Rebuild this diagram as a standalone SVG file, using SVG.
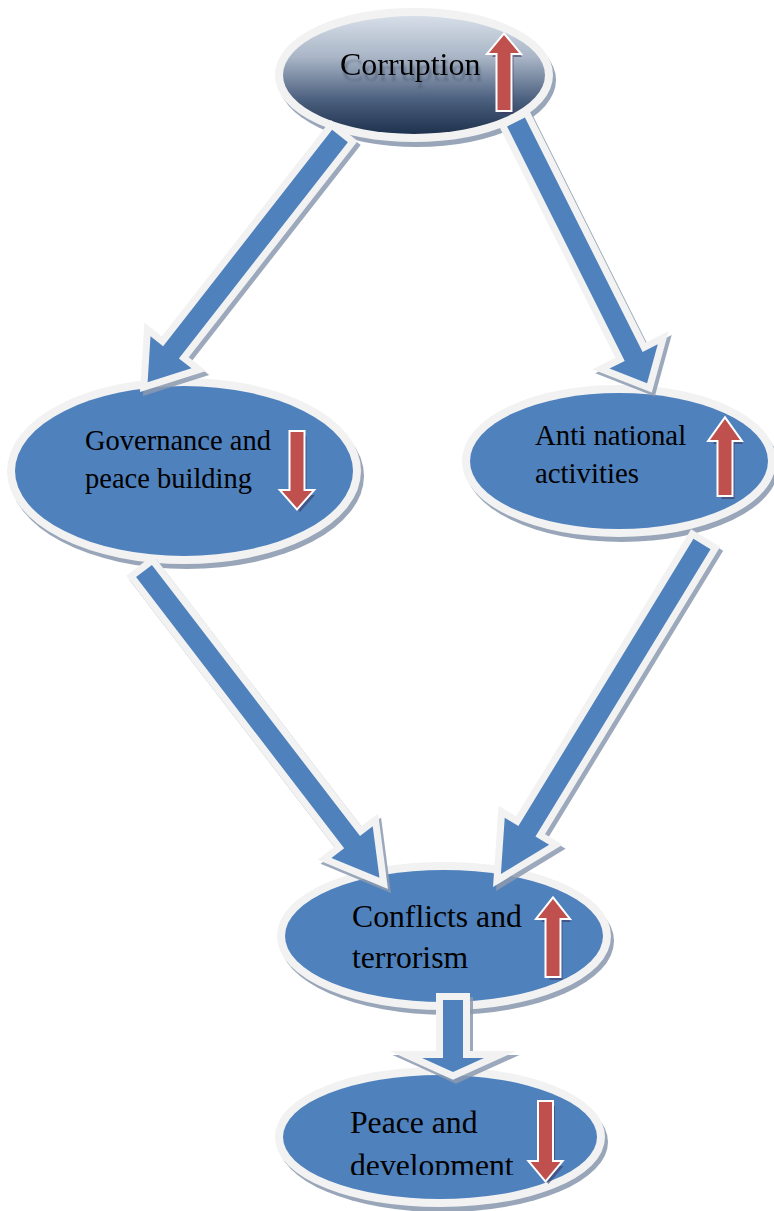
<svg xmlns="http://www.w3.org/2000/svg" xmlns:xlink="http://www.w3.org/1999/xlink" width="774" height="1211" viewBox="0 0 774 1211">
<defs>
<style>
.nshadow{fill:#8797ad;opacity:0.85}
.nbody{fill:#4f81bd;stroke:#f2f2f2;stroke-width:16;paint-order:stroke}
.ctop{stroke:#f2f2f2;stroke-width:16;paint-order:stroke}
.lbl{font-family:"Liberation Serif","Times New Roman",serif;fill:#000}
.red{fill:#c0504d;stroke:#ffffff;stroke-width:4;paint-order:stroke;stroke-linejoin:miter}
.redsh{fill:#3e3a66;opacity:0.6}
.conn{fill:#4f81bd;stroke:#f2f2f2;stroke-width:14;paint-order:stroke;stroke-linejoin:miter;stroke-miterlimit:10}
.connsh{fill:#8b9ab0;stroke:#8b9ab0;stroke-width:14;stroke-linejoin:miter;stroke-miterlimit:10;opacity:0.85}
</style>
<linearGradient id="gCor" x1="0" y1="0" x2="0" y2="1">
<stop offset="0" stop-color="#d6dee8"/>
<stop offset="0.35" stop-color="#a9b5c6"/>
<stop offset="0.7" stop-color="#4d6180"/>
<stop offset="1" stop-color="#1e314d"/>
</linearGradient>
<filter id="txtShadow" x="-10%" y="-30%" width="120%" height="180%">
<feGaussianBlur in="SourceAlpha" stdDeviation="1"/>
<feOffset dx="2" dy="6" result="o"/>
<feFlood flood-color="#4a5a72" flood-opacity="0.55"/>
<feComposite in2="o" operator="in" result="s"/>
<feMerge><feMergeNode in="s"/><feMergeNode in="SourceGraphic"/></feMerge>
</filter>
<clipPath id="clipPeace"><rect x="300" y="1090" width="240" height="85"/></clipPath>
<path id="a1" d="M0,-10 H274.5 V-26 L312.5,0 L274.5,26 V10 H0 Z" transform="translate(340,136) rotate(128)"/>
<path id="a2" d="M0,-10 H262.3 V-27 L292.3,0 L262.3,27 V10 H0 Z" transform="translate(516,122) rotate(63.35)"/>
<path id="a3" d="M0,-10 H341.8 V-26 L386.8,0 L341.8,26 V10 H0 Z" transform="translate(144,571) rotate(52.5)"/>
<path id="a4" d="M0,-10 H336.4 V-26 L386.4,0 L336.4,26 V10 H0 Z" transform="translate(702,544) rotate(121.36)"/>
<path id="a5" d="M0,-10 H58 V-31 L72,0 L58,31 V10 H0 Z" transform="translate(453,1000) rotate(90)"/>
</defs>

<g id="node-corruption">
<ellipse class="nshadow" cx="417" cy="80" rx="139" ry="67"/>
<ellipse class="ctop" fill="url(#gCor)" cx="414" cy="75" rx="131" ry="59"/>
<text class="lbl" x="340" y="75" font-size="32" filter="url(#txtShadow)">Corruption</text>
<path class="redsh" d="M500.5,114 V57 H492 L507,39 L522,57 H513.5 V114 Z"/>
<path class="red" d="M497.5,110 V53 H489 L504,35 L519,53 H510.5 V110 Z"/>
</g>

<g id="node-governance">
<ellipse class="nshadow" cx="187" cy="476" rx="177" ry="93"/>
<ellipse class="nbody" cx="184" cy="471" rx="169" ry="85"/>
<text class="lbl" x="85" y="450" font-size="28.5">Governance and</text>
<text class="lbl" x="85" y="488" font-size="28.5">peace building</text>
<path class="redsh" d="M293.5,436 H306.5 V495 H315 L300,512 L285,495 H293.5 Z"/>
<path class="red" d="M290.5,432 H303.5 V491 H312 L297,508 L282,491 H290.5 Z"/>
</g>

<g id="node-anti-national">
<ellipse class="nshadow" cx="622" cy="466" rx="157" ry="76"/>
<ellipse class="nbody" cx="619" cy="461" rx="149" ry="68"/>
<text class="lbl" x="535" y="445" font-size="28.8">Anti national</text>
<text class="lbl" x="535" y="483" font-size="28.8">activities</text>
<path class="redsh" d="M721.5,499 V444 H713 L728,423 L743,444 H734.5 V499 Z"/>
<path class="red" d="M718.5,495 V440 H710 L725,419 L740,440 H731.5 V495 Z"/>
</g>

<g id="node-conflicts">
<ellipse class="nshadow" cx="447" cy="941" rx="167" ry="74"/>
<ellipse class="nbody" cx="444" cy="936" rx="159" ry="66"/>
<text class="lbl" x="352" y="927" font-size="31.7">Conflicts and</text>
<text class="lbl" x="352" y="968" font-size="31.7">terrorism</text>
<path class="redsh" d="M549.5,980 V922 H541 L556,903 L571,922 H562.5 V980 Z"/>
<path class="red" d="M546.5,976 V918 H538 L553,899 L568,918 H559.5 V976 Z"/>
</g>

<g id="node-peace">
<ellipse class="nshadow" cx="443" cy="1142" rx="165" ry="70"/>
<ellipse class="nbody" cx="440" cy="1137" rx="157" ry="62"/>
<g clip-path="url(#clipPeace)">
<text class="lbl" x="350" y="1133" font-size="31.7">Peace and</text>
<text class="lbl" x="350" y="1176" font-size="31.7">development</text>
</g>
<path class="redsh" d="M542,1106 H555 V1166 H563.5 L548.5,1184 L533.5,1166 H542 Z"/>
<path class="red" d="M539,1102 H552 V1162 H560.5 L545.5,1180 L530.5,1162 H539 Z"/>
</g>

<g id="connectors">
<g transform="translate(3,4)">
<use xlink:href="#a1" class="connsh"/>
<use xlink:href="#a2" class="connsh"/>
<use xlink:href="#a3" class="connsh"/>
<use xlink:href="#a4" class="connsh"/>
<use xlink:href="#a5" class="connsh"/>
</g>
<use xlink:href="#a1" class="conn"/>
<use xlink:href="#a2" class="conn"/>
<use xlink:href="#a3" class="conn"/>
<use xlink:href="#a4" class="conn"/>
<use xlink:href="#a5" class="conn"/>
</g>
</svg>
